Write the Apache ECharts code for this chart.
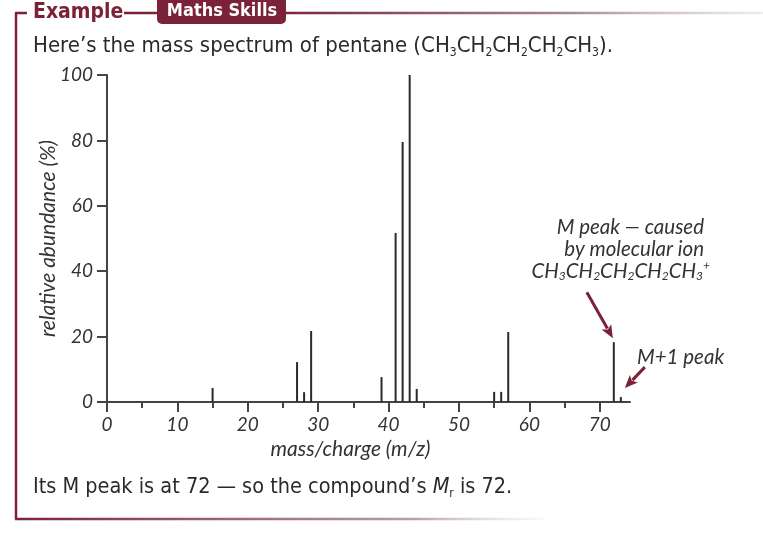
<!DOCTYPE html>
<html>
<head>
<meta charset="utf-8">
<script src="https://cdn.jsdelivr.net/npm/echarts@6/dist/echarts.min.js"></script>
<style>
  html, body { margin: 0; padding: 0; background: #fff; }
  #main { width: 763px; height: 534px; }
</style>
</head>
<body>
<div id="main"></div>
<script>
// peaks of the pentane mass spectrum
const massCharge = [15, 27, 28, 29, 39, 41, 42, 43, 44, 55, 56, 57, 72, 73];
const abundance = [4.3, 12.2, 3, 21.7, 7.6, 51.7, 79.5, 100, 4, 3.1, 3.1, 21.4, 18.3, 1.5];
const xMajorTicks = [0, 10, 20, 30, 40, 50, 60, 70];
const xMinorTicks = [5, 15, 25, 35, 45, 55, 65];

const maroon = '#7b2238';
const ink = '#2a2a2a';
const bodyFont = "'Liberation Sans Narrow', 'DejaVu Sans Condensed', 'Noto Sans', sans-serif";
const italicFont = "Lato, 'Open Sans', sans-serif";

const chart = echarts.init(document.getElementById('main'), null, { renderer: 'canvas' });

const axisText = { color: '#333', fontStyle: 'italic', fontFamily: italicFont, fontSize: 19 };

const option = {
  animation: false,
  backgroundColor: '#fff',
  grid: { left: 107, top: 75, right: 133, bottom: 132, containLabel: false },
  xAxis: [{
    type: 'value', min: 0, max: 74.3,
    name: 'mass/charge (m/z)', nameLocation: 'middle', nameGap: 36,
    nameTextStyle: Object.assign({}, axisText, { fontSize: 21, padding: [0, 36, 0, 0] }),
    axisLine: { show: true, lineStyle: { color: '#444', width: 2 } },
    axisTick: { show: true, length: 10, customValues: xMajorTicks, lineStyle: { color: '#444', width: 2 } },
    axisLabel: Object.assign({ margin: 13, customValues: xMajorTicks }, axisText),
    splitLine: { show: false }
  }, {
    type: 'value', min: 0, max: 74.3, position: 'bottom',
    axisLine: { show: false },
    axisTick: { show: true, length: 6, customValues: xMinorTicks, lineStyle: { color: '#444', width: 2 } },
    axisLabel: { show: false },
    splitLine: { show: false }
  }],
  yAxis: {
    type: 'value', min: 0, max: 100, interval: 20,
    name: 'relative abundance (%)', nameLocation: 'middle', nameGap: 48, nameMoveOverlap: false,
    nameTextStyle: Object.assign({}, axisText, { fontSize: 21 }),
    axisLine: { show: true, lineStyle: { color: '#444', width: 2 } },
    axisTick: { show: true, length: 10, lineStyle: { color: '#444', width: 2 } },
    axisLabel: Object.assign({ margin: 14 }, axisText),
    splitLine: { show: false }
  },
  series: [{
    type: 'bar',
    xAxisIndex: 0,
    barWidth: 2,
    itemStyle: { color: ink },
    data: massCharge.map((m, i) => [m, abundance[i]])
  }]
};
chart.setOption(option);

function arrow(tail, tip) {
  const dx = tip[0] - tail[0], dy = tip[1] - tail[1];
  const len = Math.sqrt(dx * dx + dy * dy);
  const ux = dx / len, uy = dy / len;
  const headLen = 13, headW = 5.5;
  const bx = tip[0] - ux * headLen, by = tip[1] - uy * headLen;
  return [{
    type: 'line', silent: true,
    shape: { x1: tail[0], y1: tail[1], x2: bx + ux * 2, y2: by + uy * 2 },
    style: { stroke: maroon, lineWidth: 3 }
  }, {
    type: 'polygon', silent: true,
    shape: { points: [tip, [bx - uy * headW, by + ux * headW], [bx + ux * 3, by + uy * 3], [bx + uy * headW, by - ux * headW]] },
    style: { fill: maroon }
  }];
}

const mPeak = chart.convertToPixel({ gridIndex: 0 }, [72, 18.3]);
const m1Peak = chart.convertToPixel({ gridIndex: 0 }, [73, 1.5]);

const subRich = {
  s: { fontSize: 12, lineHeight: 12, verticalAlign: 'bottom', fontFamily: bodyFont, fill: ink },
  si: { fontSize: 12, lineHeight: 12, verticalAlign: 'bottom', fontStyle: 'italic', fontFamily: italicFont, fill: '#333' },
  sup: { fontSize: 12, lineHeight: 12, verticalAlign: 'top', fontStyle: 'italic', fontFamily: italicFont, fill: '#333' },
  im: { fontSize: 21.5, fontStyle: 'italic', fontFamily: bodyFont, fill: ink }
};

function txt(x, y, text, extra) {
  return {
    type: 'text', silent: true,
    style: Object.assign({
      x: x, y: y, text: text,
      align: 'left', textAlign: 'left', verticalAlign: 'middle', textVerticalAlign: 'middle',
      fill: ink, fontSize: 22, fontFamily: bodyFont, rich: subRich
    }, extra || {})
  };
}

const annot = { fill: '#333', fontSize: 20.5, fontStyle: 'italic', fontFamily: italicFont, align: 'right', textAlign: 'right' };

const graphics = [
  // frame bracket
  { type: 'line', silent: true, shape: { x1: 16, y1: 13, x2: 16, y2: 519 }, style: { stroke: maroon, lineWidth: 2.5 } },
  { type: 'line', silent: true, shape: { x1: 15, y1: 13, x2: 27, y2: 13 }, style: { stroke: maroon, lineWidth: 2.5 } },
  { type: 'line', silent: true, shape: { x1: 124, y1: 13, x2: 160, y2: 13 }, style: { stroke: maroon, lineWidth: 2.5 } },
  {
    type: 'line', silent: true, shape: { x1: 280, y1: 13, x2: 763, y2: 13 },
    style: { lineWidth: 2.5, stroke: new echarts.graphic.LinearGradient(0, 0, 1, 0, [
      { offset: 0, color: maroon }, { offset: 0.6, color: '#a88a92' }, { offset: 1, color: 'rgba(230,225,226,0.6)' }]) }
  },
  {
    type: 'line', silent: true, shape: { x1: 15, y1: 519, x2: 545, y2: 519 },
    style: { lineWidth: 2.5, stroke: new echarts.graphic.LinearGradient(0, 0, 1, 0, [
      { offset: 0, color: maroon }, { offset: 0.75, color: '#b7a0a6' }, { offset: 1, color: 'rgba(240,236,237,0.3)' }]) }
  },
  { type: 'rect', silent: true, shape: { x: 157, y: -6, width: 129, height: 30, r: 5 }, style: { fill: maroon } },
  txt(222, 11, 'Maths Skills', { fill: '#fff', fontWeight: 'bold', fontSize: 18, align: 'center', textAlign: 'center' }),
  txt(33, 13, 'Example', { fill: maroon, fontWeight: 'bold', fontSize: 21 }),
  txt(33, 46, 'Here\u2019s the mass spectrum of pentane (CH{s|3}CH{s|2}CH{s|2}CH{s|2}CH{s|3}).', { lineHeight: 26 }),
  txt(33, 487, 'Its M peak is at 72 \u2014 so the compound\u2019s {im|M}{s|r} is 72.', { lineHeight: 26, fontSize: 21.5 }),
  // annotations
  txt(704, 227, 'M peak \u2014 caused', annot),
  txt(704, 249, 'by molecular ion', annot),
  txt(710, 271, 'CH{si|3}CH{si|2}CH{si|2}CH{si|2}CH{si|3}{sup|+}', Object.assign({ lineHeight: 23 }, annot)),
  txt(637, 357, 'M+1 peak', Object.assign({}, annot, { align: 'left', textAlign: 'left' }))
]
  .concat(arrow([mPeak[0] - 27, mPeak[1] - 50], [mPeak[0] - 1, mPeak[1] - 4]))
  .concat(arrow([m1Peak[0] + 24, m1Peak[1] - 30], [m1Peak[0] + 4, m1Peak[1] - 9]));

chart.setOption({ graphic: graphics });
</script>
</body>
</html>
